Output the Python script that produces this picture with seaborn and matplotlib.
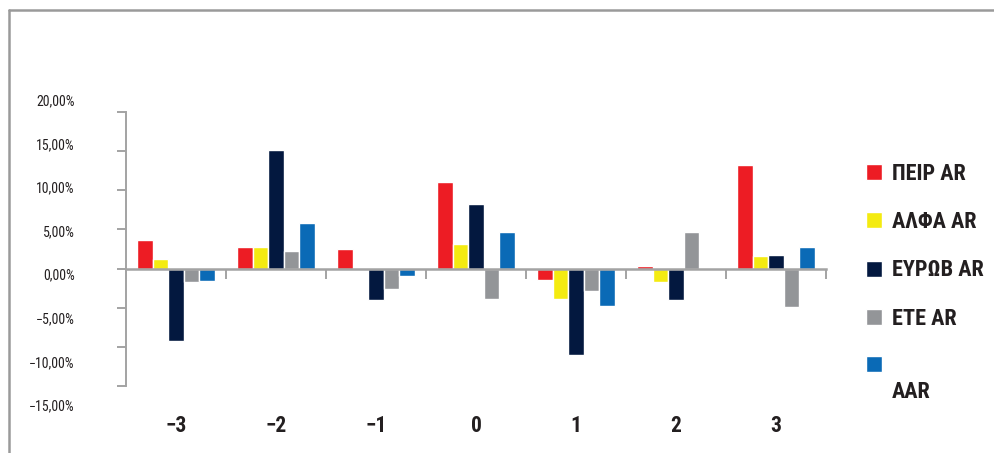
import matplotlib
matplotlib.use("Agg")
import matplotlib.pyplot as plt
from matplotlib import font_manager
from matplotlib.lines import Line2D
from matplotlib.ticker import FixedLocator, FuncFormatter
import seaborn as sns
import pandas as pd

# Event-window days and the five bank series (abnormal returns, %)
periods = ["−3", "−2", "−1", "0", "1", "2", "3"]
banks = ["ΠΕΙΡ AR", "ΑΛΦΑ AR", "ΕΥΡΩΒ AR", "ΕΤΕ AR", "\nAAR"]
peir_ar = [3.6, 2.8, 2.5, 11.0, -1.5, 0.3, 13.2]
alpha_ar = [1.2, 2.8, 0.0, 3.2, -3.9, -1.7, 1.6]
eurob_ar = [-9.3, 15.2, -4.0, 8.2, -11.0, -4.0, 1.7]
ete_ar = [-1.7, 2.2, -2.6, -3.9, -2.9, 4.7, -4.9]
aar = [-1.6, 5.8, -1.0, 4.7, -4.8, -0.2, 2.8]
y_ticks = [-15, -10, -5, 0, 5, 10, 15, 20]

colors = ["#ED1C24", "#F4EB10", "#03183F", "#939598", "#0A6AB6"]

series = [peir_ar, alpha_ar, eurob_ar, ete_ar, aar]
df = pd.DataFrame(
    [(p, b, v) for b, vals in zip(banks, series) for p, v in zip(periods, vals)],
    columns=["period", "bank", "value"],
)

sns.set_style("white")
names = {f.name for f in font_manager.fontManager.ttflist}
preferred = ["Roboto Condensed", "Open Sans Condensed", "IBM Plex Sans Condensed",
             "PT Sans Narrow", "DejaVu Sans"]
families = [f for f in preferred if f in names] + ["DejaVu Sans"]
plt.rcParams["font.family"] = families

W, H = 995, 453
fig = plt.figure(figsize=(W / 100, H / 100), dpi=100)


def px_box(left, top, right, bottom):
    return [left / W, 1 - bottom / H, (right - left) / W, (bottom - top) / H]


axis_gray = "#A3A3A3"
text_col = "#231F20"

# Main plotting area: 20% at top, -15% at bottom
ax = fig.add_axes(px_box(126, 112, 826, 386))
sns.barplot(
    data=df, x="period", y="value", hue="bank", order=periods, hue_order=banks,
    palette=colors, saturation=1, width=0.78, gap=0, ax=ax, legend=True,
)
ax.set_xlim(-0.5, 6.5)
ax.set_ylim(-15, 20)
ax.set_xlabel("")
ax.set_ylabel("")
for s in ["top", "right"]:
    ax.spines[s].set_visible(False)
ax.spines["left"].set_color(axis_gray)
ax.spines["left"].set_linewidth(1.4)
ax.spines["bottom"].set_position(("data", 0))
ax.spines["bottom"].set_color(axis_gray)
ax.spines["bottom"].set_linewidth(1.8)
ax.spines["bottom"].set_zorder(5)
ax.yaxis.set_major_locator(FixedLocator(y_ticks))
ax.xaxis.set_major_locator(FixedLocator([i - 0.5 for i in range(len(periods) + 1)]))
ax.tick_params(axis="y", direction="out", length=6.5, width=1.4, color=axis_gray,
               labelleft=False, left=True)
ax.tick_params(axis="x", direction="out", length=7.5, width=1.4, color=axis_gray,
               labelbottom=False, bottom=True)

handles, labels = ax.get_legend_handles_labels()
ax.get_legend().remove()

# Label layer: y labels spread over the full height, day labels below the plot
lab = fig.add_axes(px_box(126, 100, 826, 405), facecolor="none")
lab.set_xlim(-0.5, 6.5)
lab.set_ylim(-15, 20)
for s in lab.spines.values():
    s.set_visible(False)
lab.set_xticks(range(len(periods)))
lab.set_xticklabels(periods, fontsize=15.5, fontweight="bold", color=text_col)
lab.set_yticks(y_ticks)
lab.yaxis.set_major_formatter(
    FuncFormatter(lambda v, _: f"{v:.2f}".replace(".", ",").replace("-", "−") + "%"))
lab.tick_params(axis="y", length=0, pad=37, labelsize=10, labelcolor=text_col)
lab.tick_params(axis="x", length=0, pad=7)

leg = fig.legend(
    handles, labels, loc="upper left", bbox_to_anchor=(866 / W, 1 - 163 / H),
    frameon=False, prop={"family": families, "weight": "bold", "size": 16},
    handlelength=0.73, handleheight=0.73, handletextpad=0.45, labelspacing=1.18,
    borderpad=0, borderaxespad=0,
)
for t in leg.get_texts():
    t.set_color(text_col)
# The two-line last entry keeps its swatch level with the first (blank) line
last = leg.legend_handles[-1]
last.set_y(last.get_y() + 12)

# Outer frame lines along the top and left edges
fig.add_artist(Line2D([8.5 / W, 8.5 / W], [0, 1 - 9.5 / H], color="#9A9A9A", lw=1.8))
fig.add_artist(Line2D([8.5 / W, 1], [1 - 9.5 / H, 1 - 9.5 / H], color="#9A9A9A", lw=1.8))

fig.savefig("out.png", dpi=100)
